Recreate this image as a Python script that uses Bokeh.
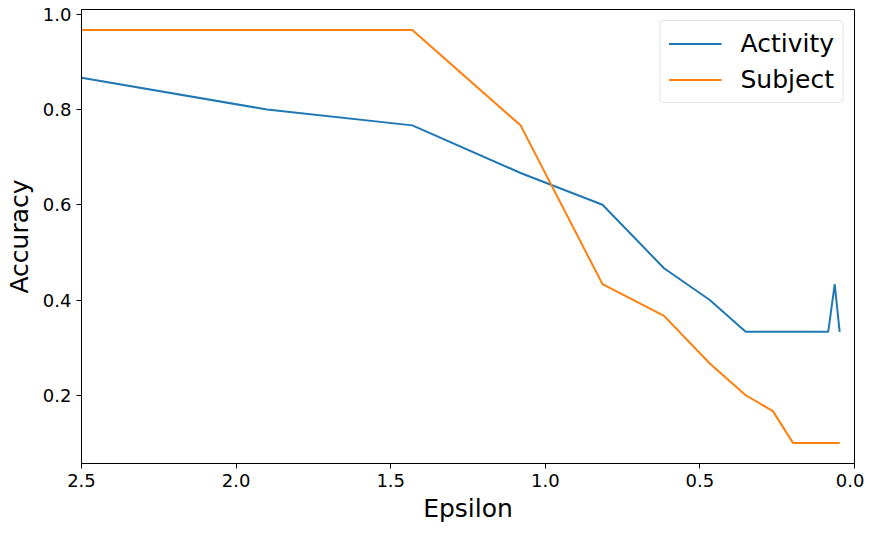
from bokeh.plotting import figure
from bokeh.models import Range1d, FixedTicker, PrintfTickFormatter, Legend, LegendItem
from bokeh.embed import file_html
from bokeh.resources import INLINE

epsilon = [2.5, 1.9, 1.43, 1.08, 0.815, 0.616, 0.468, 0.352, 0.264, 0.199, 0.15, 0.113, 0.085, 0.064, 0.048]
activity = [0.8667, 0.8, 0.7667, 0.6667, 0.6, 0.4667, 0.4, 0.3333, 0.3333, 0.3333, 0.3333, 0.3333, 0.3333, 0.4333, 0.3333]
subject = [0.9667, 0.9667, 0.9667, 0.7667, 0.4333, 0.3667, 0.2667, 0.2, 0.1667, 0.1, 0.1, 0.1, 0.1, 0.1, 0.1]
x_ticks = [2.5, 2.0, 1.5, 1.0, 0.5, 0.0]
y_ticks = [0.2, 0.4, 0.6, 0.8, 1.0]

FONT = "DejaVu Sans"

p = figure(width=864, height=525, output_backend="svg", toolbar_location=None,
           x_range=Range1d(2.5, 0.0), y_range=Range1d(0.0567, 1.01),
           min_border_left=81, min_border_right=10, min_border_top=9, min_border_bottom=60)

p.xgrid.visible = False
p.ygrid.visible = False
p.outline_line_color = "black"
p.outline_line_width = 1
p.background_fill_color = "white"
p.border_fill_color = "white"

l1 = p.line(epsilon, activity, line_color="#1f77b4", line_width=2)
l2 = p.line(epsilon, subject, line_color="#ff7f0e", line_width=2)

for ax in (p.xaxis[0], p.yaxis[0]):
    ax.major_tick_out = 5
    ax.major_tick_in = 0
    ax.minor_tick_line_color = None
    ax.axis_line_color = "black"
    ax.major_tick_line_color = "black"
    ax.major_label_text_font = FONT
    ax.major_label_text_font_size = "18px"
    ax.major_label_text_color = "black"
    ax.axis_label_text_font = FONT
    ax.axis_label_text_font_size = "25px"
    ax.axis_label_text_font_style = "normal"
    ax.axis_label_text_color = "black"
    ax.formatter = PrintfTickFormatter(format="%.1f")

p.xaxis[0].ticker = FixedTicker(ticks=x_ticks)
p.yaxis[0].ticker = FixedTicker(ticks=y_ticks)
p.xaxis[0].axis_label = "Epsilon"
p.yaxis[0].axis_label = "Accuracy"
p.xaxis[0].major_label_standoff = 5
p.yaxis[0].major_label_standoff = 5
p.xaxis[0].axis_label_standoff = 4
p.yaxis[0].axis_label_standoff = 6

legend = Legend(items=[LegendItem(label="Activity", renderers=[l1]),
                       LegendItem(label="Subject", renderers=[l2])],
                location="top_right")
legend.label_text_font = FONT
legend.label_text_font_size = "25px"
legend.label_text_color = "black"
legend.glyph_width = 53
legend.glyph_height = 29
legend.label_height = 29
legend.spacing = 7
legend.padding = 8
legend.margin = 11
legend.border_line_color = "#cccccc"
legend.border_line_width = 1
legend.border_radius = 4
legend.background_fill_alpha = 0.8
legend.label_standoff = 19
p.add_layout(legend)

open("out.html", "w").write(file_html(p, INLINE))
